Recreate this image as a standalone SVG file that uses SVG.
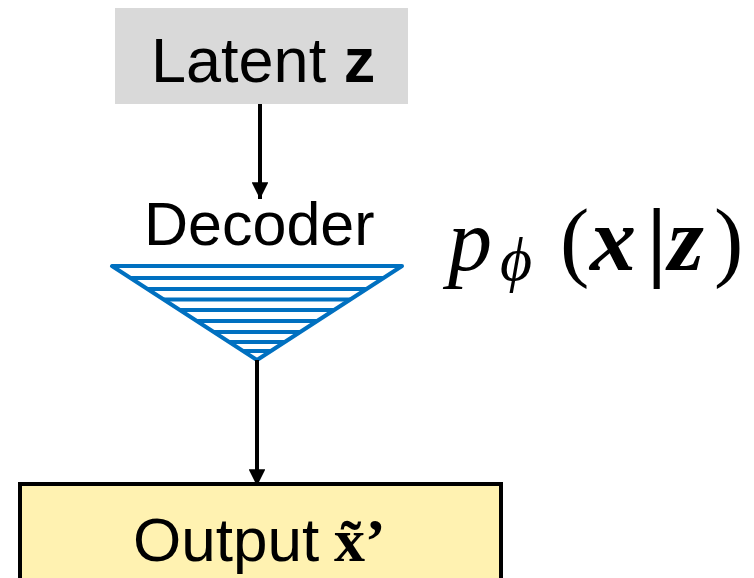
<svg xmlns="http://www.w3.org/2000/svg" width="754" height="578" viewBox="0 0 754 578">
  <style>
    .label { font-family: "Liberation Sans", Arial, sans-serif; fill: #000; }
    .math { font-family: "Liberation Serif", "DejaVu Serif", serif; fill: #000; }
    .edge { stroke: #000; stroke-width: 4; fill: none; }
    .stripe { stroke: #0070C0; stroke-width: 4; }
  </style>
  <defs>
    <marker id="arrow" viewBox="0 0 10 10" refX="10" refY="5" markerWidth="4.2" markerHeight="4.2" markerUnits="strokeWidth" orient="auto">
      <path d="M0,0 L10,5 L0,10 Z" fill="#000"/>
    </marker>
    <clipPath id="funnel-clip">
      <polygon points="112,266 402,266 257,360"/>
    </clipPath>
  </defs>

  <!-- latent code -->
  <g id="latent">
    <rect x="115" y="8" width="293" height="96" fill="#D9D9D9"/>
    <text class="label" x="151" y="82" font-size="63">Latent <tspan font-weight="bold">z</tspan></text>
  </g>

  <!-- decoder network -->
  <g id="decoder">
    <text class="label" x="144" y="245" font-size="61">Decoder</text>
    <g clip-path="url(#funnel-clip)">
      <line class="stripe" x1="100" y1="278" x2="420" y2="278"/>
      <line class="stripe" x1="100" y1="289" x2="420" y2="289"/>
      <line class="stripe" x1="100" y1="299.5" x2="420" y2="299.5"/>
      <line class="stripe" x1="100" y1="310" x2="420" y2="310"/>
      <line class="stripe" x1="100" y1="321" x2="420" y2="321"/>
      <line class="stripe" x1="100" y1="332" x2="420" y2="332"/>
      <line class="stripe" x1="100" y1="342" x2="420" y2="342"/>
      <line class="stripe" x1="100" y1="351" x2="420" y2="351"/>
    </g>
    <polygon points="112,266 402,266 257,360" fill="none" stroke="#0070C0" stroke-width="4" stroke-linejoin="round"/>
  </g>

  <!-- likelihood term -->
  <g id="likelihood">
    <text class="math" y="270" font-size="88"><tspan x="448" font-style="italic">p</tspan><tspan x="500" y="280" font-style="italic" font-size="62">ϕ</tspan><tspan x="560" y="270">(</tspan><tspan x="590" font-style="italic" font-weight="bold" font-size="92">x</tspan><tspan x="647" font-weight="bold">|</tspan><tspan x="668" font-style="italic" font-weight="bold" font-size="92">z</tspan><tspan x="714">)</tspan></text>
  </g>

  <!-- reconstruction -->
  <g id="output">
    <rect x="20" y="484" width="481" height="100" fill="#FFF2B1" stroke="#000" stroke-width="4"/>
    <text class="label" x="133" y="561" font-size="62">Output<tspan class="math" x="334" font-weight="bold">x̃’</tspan></text>
  </g>

  <!-- connectors -->
  <g id="connectors">
    <line class="edge" x1="260" y1="104" x2="260" y2="199" marker-end="url(#arrow)"/>
    <line class="edge" x1="257" y1="360" x2="257" y2="486" marker-end="url(#arrow)"/>
  </g>
</svg>
